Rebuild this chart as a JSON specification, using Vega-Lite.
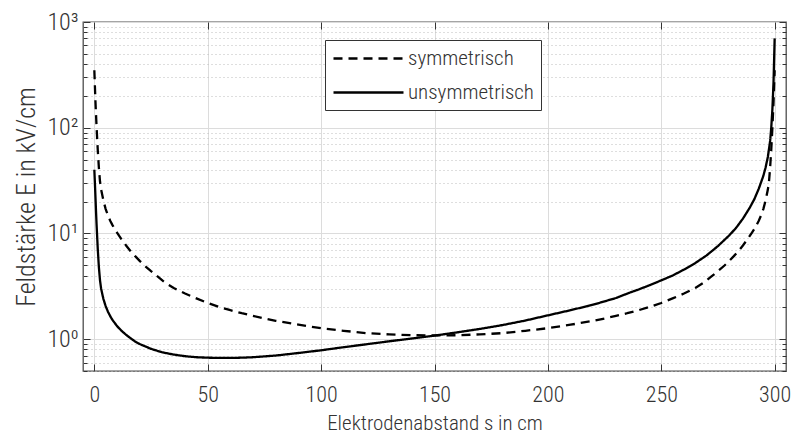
{
  "$schema": "https://vega.github.io/schema/vega-lite/v6.json",
  "autosize": {"type": "none"},
  "padding": {"left": 83, "top": 22, "right": 8, "bottom": 68},
  "width": 703,
  "height": 349,
  "background": "white",
  "config": {
    "font": "Roboto Condensed, Liberation Sans Narrow, DejaVu Sans Condensed, sans-serif",
    "view": {"stroke": "#4d4d4d", "strokeWidth": 1.3},
    "axis": {
      "labelFont": "Roboto Condensed, Liberation Sans Narrow, DejaVu Sans Condensed, sans-serif",
      "titleFont": "Roboto Condensed, Liberation Sans Narrow, DejaVu Sans Condensed, sans-serif",
      "labelFontWeight": 300,
      "titleFontWeight": 300,
      "labelColor": "#333333",
      "titleColor": "#333333",
      "tickColor": "#333333",
      "domain": false
    },
    "legend": {
      "labelFont": "Roboto Condensed, Liberation Sans Narrow, DejaVu Sans Condensed, sans-serif"
    }
  },
  "data": {
    "values": [
      {"s": 0, "E": 350, "Anordnung": "symmetrisch"},
      {"s": 0.5, "E": 175, "Anordnung": "symmetrisch"},
      {"s": 1, "E": 100, "Anordnung": "symmetrisch"},
      {"s": 1.5, "E": 62, "Anordnung": "symmetrisch"},
      {"s": 2, "E": 42, "Anordnung": "symmetrisch"},
      {"s": 2.5, "E": 31, "Anordnung": "symmetrisch"},
      {"s": 3, "E": 26, "Anordnung": "symmetrisch"},
      {"s": 4, "E": 20.5, "Anordnung": "symmetrisch"},
      {"s": 5, "E": 17, "Anordnung": "symmetrisch"},
      {"s": 6, "E": 14.8, "Anordnung": "symmetrisch"},
      {"s": 7, "E": 13.2, "Anordnung": "symmetrisch"},
      {"s": 8, "E": 12, "Anordnung": "symmetrisch"},
      {"s": 9, "E": 11, "Anordnung": "symmetrisch"},
      {"s": 10, "E": 10.2, "Anordnung": "symmetrisch"},
      {"s": 12, "E": 8.8, "Anordnung": "symmetrisch"},
      {"s": 14, "E": 7.7, "Anordnung": "symmetrisch"},
      {"s": 16, "E": 6.8, "Anordnung": "symmetrisch"},
      {"s": 18, "E": 6.1, "Anordnung": "symmetrisch"},
      {"s": 20, "E": 5.5, "Anordnung": "symmetrisch"},
      {"s": 22, "E": 5.0, "Anordnung": "symmetrisch"},
      {"s": 25, "E": 4.4, "Anordnung": "symmetrisch"},
      {"s": 28, "E": 3.9, "Anordnung": "symmetrisch"},
      {"s": 31, "E": 3.45, "Anordnung": "symmetrisch"},
      {"s": 35, "E": 3.05, "Anordnung": "symmetrisch"},
      {"s": 40, "E": 2.7, "Anordnung": "symmetrisch"},
      {"s": 45, "E": 2.43, "Anordnung": "symmetrisch"},
      {"s": 50, "E": 2.2, "Anordnung": "symmetrisch"},
      {"s": 55, "E": 2.02, "Anordnung": "symmetrisch"},
      {"s": 60, "E": 1.88, "Anordnung": "symmetrisch"},
      {"s": 65, "E": 1.76, "Anordnung": "symmetrisch"},
      {"s": 70, "E": 1.66, "Anordnung": "symmetrisch"},
      {"s": 75, "E": 1.57, "Anordnung": "symmetrisch"},
      {"s": 80, "E": 1.49, "Anordnung": "symmetrisch"},
      {"s": 90, "E": 1.37, "Anordnung": "symmetrisch"},
      {"s": 100, "E": 1.27, "Anordnung": "symmetrisch"},
      {"s": 110, "E": 1.2, "Anordnung": "symmetrisch"},
      {"s": 120, "E": 1.14, "Anordnung": "symmetrisch"},
      {"s": 130, "E": 1.11, "Anordnung": "symmetrisch"},
      {"s": 140, "E": 1.09, "Anordnung": "symmetrisch"},
      {"s": 150, "E": 1.085, "Anordnung": "symmetrisch"},
      {"s": 160, "E": 1.09, "Anordnung": "symmetrisch"},
      {"s": 170, "E": 1.11, "Anordnung": "symmetrisch"},
      {"s": 180, "E": 1.14, "Anordnung": "symmetrisch"},
      {"s": 190, "E": 1.2, "Anordnung": "symmetrisch"},
      {"s": 200, "E": 1.27, "Anordnung": "symmetrisch"},
      {"s": 210, "E": 1.37, "Anordnung": "symmetrisch"},
      {"s": 220, "E": 1.49, "Anordnung": "symmetrisch"},
      {"s": 225, "E": 1.57, "Anordnung": "symmetrisch"},
      {"s": 230, "E": 1.66, "Anordnung": "symmetrisch"},
      {"s": 235, "E": 1.76, "Anordnung": "symmetrisch"},
      {"s": 240, "E": 1.88, "Anordnung": "symmetrisch"},
      {"s": 245, "E": 2.02, "Anordnung": "symmetrisch"},
      {"s": 250, "E": 2.2, "Anordnung": "symmetrisch"},
      {"s": 255, "E": 2.43, "Anordnung": "symmetrisch"},
      {"s": 260, "E": 2.7, "Anordnung": "symmetrisch"},
      {"s": 265, "E": 3.05, "Anordnung": "symmetrisch"},
      {"s": 269, "E": 3.45, "Anordnung": "symmetrisch"},
      {"s": 272, "E": 3.9, "Anordnung": "symmetrisch"},
      {"s": 275, "E": 4.4, "Anordnung": "symmetrisch"},
      {"s": 278, "E": 5.0, "Anordnung": "symmetrisch"},
      {"s": 280, "E": 5.5, "Anordnung": "symmetrisch"},
      {"s": 282, "E": 6.1, "Anordnung": "symmetrisch"},
      {"s": 284, "E": 6.8, "Anordnung": "symmetrisch"},
      {"s": 286, "E": 7.7, "Anordnung": "symmetrisch"},
      {"s": 288, "E": 8.8, "Anordnung": "symmetrisch"},
      {"s": 290, "E": 10.2, "Anordnung": "symmetrisch"},
      {"s": 291, "E": 11, "Anordnung": "symmetrisch"},
      {"s": 292, "E": 12, "Anordnung": "symmetrisch"},
      {"s": 293, "E": 13.2, "Anordnung": "symmetrisch"},
      {"s": 294, "E": 14.8, "Anordnung": "symmetrisch"},
      {"s": 295, "E": 17, "Anordnung": "symmetrisch"},
      {"s": 296, "E": 20.5, "Anordnung": "symmetrisch"},
      {"s": 297, "E": 26, "Anordnung": "symmetrisch"},
      {"s": 297.5, "E": 31, "Anordnung": "symmetrisch"},
      {"s": 298, "E": 42, "Anordnung": "symmetrisch"},
      {"s": 298.5, "E": 62, "Anordnung": "symmetrisch"},
      {"s": 299, "E": 100, "Anordnung": "symmetrisch"},
      {"s": 299.5, "E": 175, "Anordnung": "symmetrisch"},
      {"s": 300, "E": 350, "Anordnung": "symmetrisch"},
      {"s": 0, "E": 40, "Anordnung": "unsymmetrisch"},
      {"s": 0.25, "E": 30, "Anordnung": "unsymmetrisch"},
      {"s": 0.5, "E": 22, "Anordnung": "unsymmetrisch"},
      {"s": 0.75, "E": 16, "Anordnung": "unsymmetrisch"},
      {"s": 1, "E": 12, "Anordnung": "unsymmetrisch"},
      {"s": 1.5, "E": 7.2, "Anordnung": "unsymmetrisch"},
      {"s": 2, "E": 4.8, "Anordnung": "unsymmetrisch"},
      {"s": 2.5, "E": 3.6, "Anordnung": "unsymmetrisch"},
      {"s": 3, "E": 3.0, "Anordnung": "unsymmetrisch"},
      {"s": 4, "E": 2.4, "Anordnung": "unsymmetrisch"},
      {"s": 5, "E": 2.05, "Anordnung": "unsymmetrisch"},
      {"s": 6, "E": 1.82, "Anordnung": "unsymmetrisch"},
      {"s": 7, "E": 1.65, "Anordnung": "unsymmetrisch"},
      {"s": 8, "E": 1.52, "Anordnung": "unsymmetrisch"},
      {"s": 10, "E": 1.33, "Anordnung": "unsymmetrisch"},
      {"s": 12, "E": 1.2, "Anordnung": "unsymmetrisch"},
      {"s": 14, "E": 1.1, "Anordnung": "unsymmetrisch"},
      {"s": 16, "E": 1.02, "Anordnung": "unsymmetrisch"},
      {"s": 18, "E": 0.95, "Anordnung": "unsymmetrisch"},
      {"s": 20, "E": 0.9, "Anordnung": "unsymmetrisch"},
      {"s": 25, "E": 0.81, "Anordnung": "unsymmetrisch"},
      {"s": 30, "E": 0.75, "Anordnung": "unsymmetrisch"},
      {"s": 35, "E": 0.715, "Anordnung": "unsymmetrisch"},
      {"s": 40, "E": 0.69, "Anordnung": "unsymmetrisch"},
      {"s": 45, "E": 0.675, "Anordnung": "unsymmetrisch"},
      {"s": 50, "E": 0.668, "Anordnung": "unsymmetrisch"},
      {"s": 55, "E": 0.665, "Anordnung": "unsymmetrisch"},
      {"s": 60, "E": 0.665, "Anordnung": "unsymmetrisch"},
      {"s": 65, "E": 0.668, "Anordnung": "unsymmetrisch"},
      {"s": 70, "E": 0.675, "Anordnung": "unsymmetrisch"},
      {"s": 80, "E": 0.7, "Anordnung": "unsymmetrisch"},
      {"s": 90, "E": 0.74, "Anordnung": "unsymmetrisch"},
      {"s": 100, "E": 0.785, "Anordnung": "unsymmetrisch"},
      {"s": 110, "E": 0.84, "Anordnung": "unsymmetrisch"},
      {"s": 120, "E": 0.895, "Anordnung": "unsymmetrisch"},
      {"s": 130, "E": 0.955, "Anordnung": "unsymmetrisch"},
      {"s": 140, "E": 1.015, "Anordnung": "unsymmetrisch"},
      {"s": 150, "E": 1.08, "Anordnung": "unsymmetrisch"},
      {"s": 160, "E": 1.16, "Anordnung": "unsymmetrisch"},
      {"s": 170, "E": 1.25, "Anordnung": "unsymmetrisch"},
      {"s": 180, "E": 1.36, "Anordnung": "unsymmetrisch"},
      {"s": 190, "E": 1.5, "Anordnung": "unsymmetrisch"},
      {"s": 200, "E": 1.68, "Anordnung": "unsymmetrisch"},
      {"s": 210, "E": 1.88, "Anordnung": "unsymmetrisch"},
      {"s": 220, "E": 2.12, "Anordnung": "unsymmetrisch"},
      {"s": 230, "E": 2.45, "Anordnung": "unsymmetrisch"},
      {"s": 236, "E": 2.75, "Anordnung": "unsymmetrisch"},
      {"s": 240, "E": 2.95, "Anordnung": "unsymmetrisch"},
      {"s": 245, "E": 3.25, "Anordnung": "unsymmetrisch"},
      {"s": 250, "E": 3.6, "Anordnung": "unsymmetrisch"},
      {"s": 255, "E": 4.0, "Anordnung": "unsymmetrisch"},
      {"s": 260, "E": 4.55, "Anordnung": "unsymmetrisch"},
      {"s": 265, "E": 5.25, "Anordnung": "unsymmetrisch"},
      {"s": 270, "E": 6.2, "Anordnung": "unsymmetrisch"},
      {"s": 275, "E": 7.6, "Anordnung": "unsymmetrisch"},
      {"s": 280, "E": 9.6, "Anordnung": "unsymmetrisch"},
      {"s": 283, "E": 11.3, "Anordnung": "unsymmetrisch"},
      {"s": 286, "E": 13.8, "Anordnung": "unsymmetrisch"},
      {"s": 289, "E": 17.5, "Anordnung": "unsymmetrisch"},
      {"s": 291, "E": 21, "Anordnung": "unsymmetrisch"},
      {"s": 293, "E": 26.5, "Anordnung": "unsymmetrisch"},
      {"s": 295, "E": 35, "Anordnung": "unsymmetrisch"},
      {"s": 296, "E": 42, "Anordnung": "unsymmetrisch"},
      {"s": 297, "E": 53, "Anordnung": "unsymmetrisch"},
      {"s": 298, "E": 75, "Anordnung": "unsymmetrisch"},
      {"s": 298.5, "E": 100, "Anordnung": "unsymmetrisch"},
      {"s": 299, "E": 150, "Anordnung": "unsymmetrisch"},
      {"s": 299.5, "E": 270, "Anordnung": "unsymmetrisch"},
      {"s": 300, "E": 700, "Anordnung": "unsymmetrisch"}
    ]
  },
  "resolve": {"axis": {"x": "independent", "y": "independent"}},
  "layer": [
    {
      "mark": {"type": "line", "strokeWidth": 2.3, "color": "black", "clip": true},
      "encoding": {
        "x": {
          "field": "s", "type": "quantitative",
          "scale": {"domain": [-5, 305], "nice": false, "zero": false},
          "axis": {
            "orient": "bottom",
            "title": "Elektrodenabstand s in cm",
            "values": [0, 50, 100, 150, 200, 250, 300],
            "ticks": false,
            "labelPadding": 13,
            "labelFontSize": 22,
            "titleFontSize": 21,
            "titlePadding": 7,
            "grid": true,
            "gridColor": "#dcdcdc",
            "gridWidth": 1
          }
        },
        "y": {
          "field": "E", "type": "quantitative",
          "scale": {"type": "log", "domain": [0.5, 1000], "nice": false},
          "axis": {
            "orient": "left",
            "title": "Feldstärke E in kV/cm",
            "values": [1, 10, 100, 1000],
            "labelExpr": "datum.value == 1 ? '10⁰' : datum.value == 10 ? '10¹' : datum.value == 100 ? '10²' : '10³'",
            "ticks": false,
            "labelPadding": 5,
            "labelFontSize": 24,
            "titleFontSize": 26,
            "titlePadding": 7,
            "grid": true,
            "gridColor": "#dcdcdc",
            "gridWidth": 1
          }
        },
        "strokeDash": {
          "field": "Anordnung", "type": "nominal",
          "scale": {"domain": ["symmetrisch", "unsymmetrisch"], "range": [[9, 6], [1, 0]]},
          "legend": {
            "orient": "none",
            "legendX": 242,
            "legendY": 18,
            "title": null,
            "symbolType": "M-1,0H6",
            "symbolSize": 400,
            "symbolStrokeWidth": 2.5,
            "symbolStrokeColor": "black",
            "labelFontSize": 21,
            "labelFontWeight": 300,
            "labelColor": "#333333",
            "labelOffset": 53,
            "rowPadding": 12,
            "padding": 7,
            "strokeColor": "#333333",
            "fillColor": "white"
          }
        }
      }
    },
    {
      "mark": {"type": "line", "opacity": 0},
      "encoding": {
        "x": {
          "field": "s", "type": "quantitative",
          "axis": {"orient": "bottom", "values": [0, 50, 100, 150, 200, 250, 300], "labels": false, "title": null, "grid": false, "tickSize": -7}
        },
        "y": {
          "field": "E", "type": "quantitative",
          "axis": {
            "orient": "left",
            "values": [0.5, 0.6, 0.7, 0.8, 0.9, 2, 3, 4, 5, 6, 7, 8, 9, 20, 30, 40, 50, 60, 70, 80, 90, 200, 300, 400, 500, 600, 700, 800, 900],
            "labels": false, "title": null, "tickSize": -4,
            "grid": true, "gridColor": "#bdbdbd", "gridDash": [1, 3], "gridWidth": 1
          }
        },
        "detail": {"field": "Anordnung"}
      }
    },
    {
      "mark": {"type": "line", "opacity": 0},
      "encoding": {
        "x": {
          "field": "s", "type": "quantitative",
          "axis": {"orient": "top", "values": [0, 50, 100, 150, 200, 250, 300], "labels": false, "title": null, "grid": false, "tickSize": -7}
        },
        "y": {
          "field": "E", "type": "quantitative",
          "axis": {"orient": "left", "values": [1, 10, 100, 1000], "labels": false, "title": null, "grid": false, "tickSize": -7}
        },
        "detail": {"field": "Anordnung"}
      }
    },
    {
      "mark": {"type": "line", "opacity": 0},
      "encoding": {
        "x": {"field": "s", "type": "quantitative", "axis": null},
        "y": {
          "field": "E", "type": "quantitative",
          "axis": {"orient": "right", "values": [1, 10, 100, 1000], "labels": false, "title": null, "grid": false, "tickSize": -7}
        },
        "detail": {"field": "Anordnung"}
      }
    },
    {
      "mark": {"type": "line", "opacity": 0},
      "encoding": {
        "x": {"field": "s", "type": "quantitative", "axis": null},
        "y": {
          "field": "E", "type": "quantitative",
          "axis": {
            "orient": "right",
            "values": [0.5, 0.6, 0.7, 0.8, 0.9, 2, 3, 4, 5, 6, 7, 8, 9, 20, 30, 40, 50, 60, 70, 80, 90, 200, 300, 400, 500, 600, 700, 800, 900],
            "labels": false, "title": null, "grid": false, "tickSize": -4
          }
        },
        "detail": {"field": "Anordnung"}
      }
    }
  ]
}
